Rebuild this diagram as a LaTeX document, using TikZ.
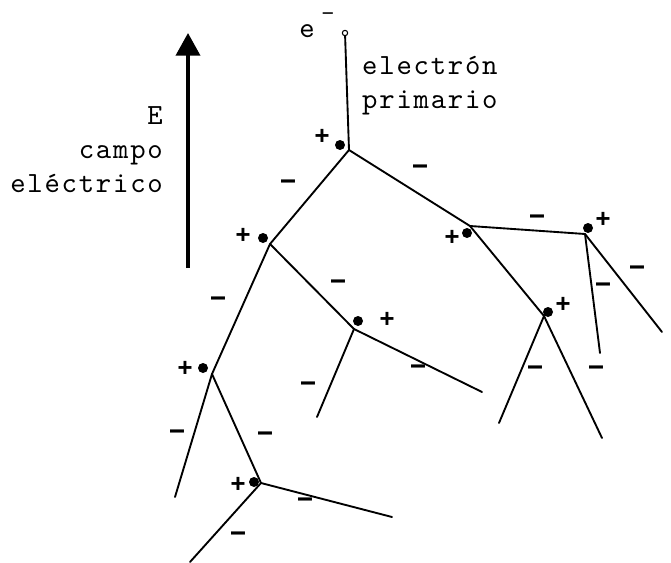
\documentclass[tikz,border=0pt]{standalone}
\usepackage{fontspec}
\newfontfamily\typefont{lmmono10-regular}[Extension=.otf, LetterSpace=6]
\newfontfamily\signfont{Liberation Mono}
\usetikzlibrary{arrows.meta}

\begin{document}
\begin{tikzpicture}[
  x=0.03cm, y=-0.03cm,
  every node/.style={font=\typefont\fontsize{25}{29}\selectfont, inner sep=0pt},
  track/.style={line width=1.6pt, line cap=round},
  field/.style={line width=3.2pt, -{Triangle[length=0.68cm, width=0.72cm]}},
  ion/.style={circle, fill=black, minimum size=0.3cm},
  hole/.style={circle, draw, line width=0.9pt, minimum size=0.16cm},
  plussign/.style={font=\signfont\bfseries\fontsize{22}{24}\selectfont},
  minussign/.style={font=\signfont\bfseries\fontsize{27}{30}\selectfont}
]
\useasboundingbox (0,0) rectangle (671,563);

% field arrow and labels
\coordinate (fbot) at (188,268);
\coordinate (ftop) at (188,33);
\draw[field] (fbot) -- (ftop);
\node[anchor=east, align=right] (fieldlabel) at (163,150) {E\\campo\\eléctrico};

% primary electron
\node[hole] (e0) at (345,33) {};
\node (elet) at (307,31) {e};
\node[font=\signfont\fontsize{20}{24}\selectfont] (eminus) at (328,16) {–};
\node[anchor=west, align=left] (primlabel) at (362,86) {electrón\\primario};

% branching points
\coordinate (v1) at (349,150);
\coordinate (v2) at (270,244);
\coordinate (v3) at (470,226);
\coordinate (v4) at (585,234);
\coordinate (v5) at (544,316);
\coordinate (v6) at (212,374);
\coordinate (v7) at (354,329);
\coordinate (v8) at (261,483);

% free ends
\coordinate (e41) at (600,353);
\coordinate (e42) at (662,332);
\coordinate (e51) at (499,423);
\coordinate (e52) at (602,438);
\coordinate (e61) at (175,497);
\coordinate (e71) at (317,417);
\coordinate (e72) at (482,392);
\coordinate (e81) at (190,562);
\coordinate (e82) at (392,517);

% electron tracks
\draw[track] (e0) -- (v1);
\draw[track] (v1) -- (v2);
\draw[track] (v1) -- (v3);
\draw[track] (v3) -- (v4);
\draw[track] (v4) -- (e41);
\draw[track] (v4) -- (e42);
\draw[track] (v3) -- (v5);
\draw[track] (v5) -- (e51);
\draw[track] (v5) -- (e52);
\draw[track] (v2) -- (v6);
\draw[track] (v2) -- (v7);
\draw[track] (v7) -- (e71);
\draw[track] (v7) -- (e72);
\draw[track] (v6) -- (e61);
\draw[track] (v6) -- (v8);
\draw[track] (v8) -- (e81);
\draw[track] (v8) -- (e82);

% positive ions
\foreach \n/\x/\y in {1/340/145, 2/263/238, 3/467/233, 4/588/228,
                      5/548/312, 6/203/368, 7/358/321, 8/254/482}
  \node[ion] (ion\n) at (\x,\y) {};
\foreach \n/\x/\y in {1/322/137, 2/243/236, 3/452/238, 4/603/220,
                      5/563/305, 6/185/369, 7/387/320, 8/238/485}
  \node[plussign] (plus\n) at (\x,\y) {+};

% secondary electrons
\foreach \n/\x/\y in {1/288/185, 2/420/170, 3/537/220, 4/603/288, 5/637/271,
                      6/535/371, 7/596/371, 8/218/302, 9/338/285, 10/308/387,
                      11/418/370, 12/177/435, 13/265/437, 14/238/537, 15/305/503}
  \node[minussign] (minus\n) at (\x,\y) {–};
\end{tikzpicture}
\end{document}
